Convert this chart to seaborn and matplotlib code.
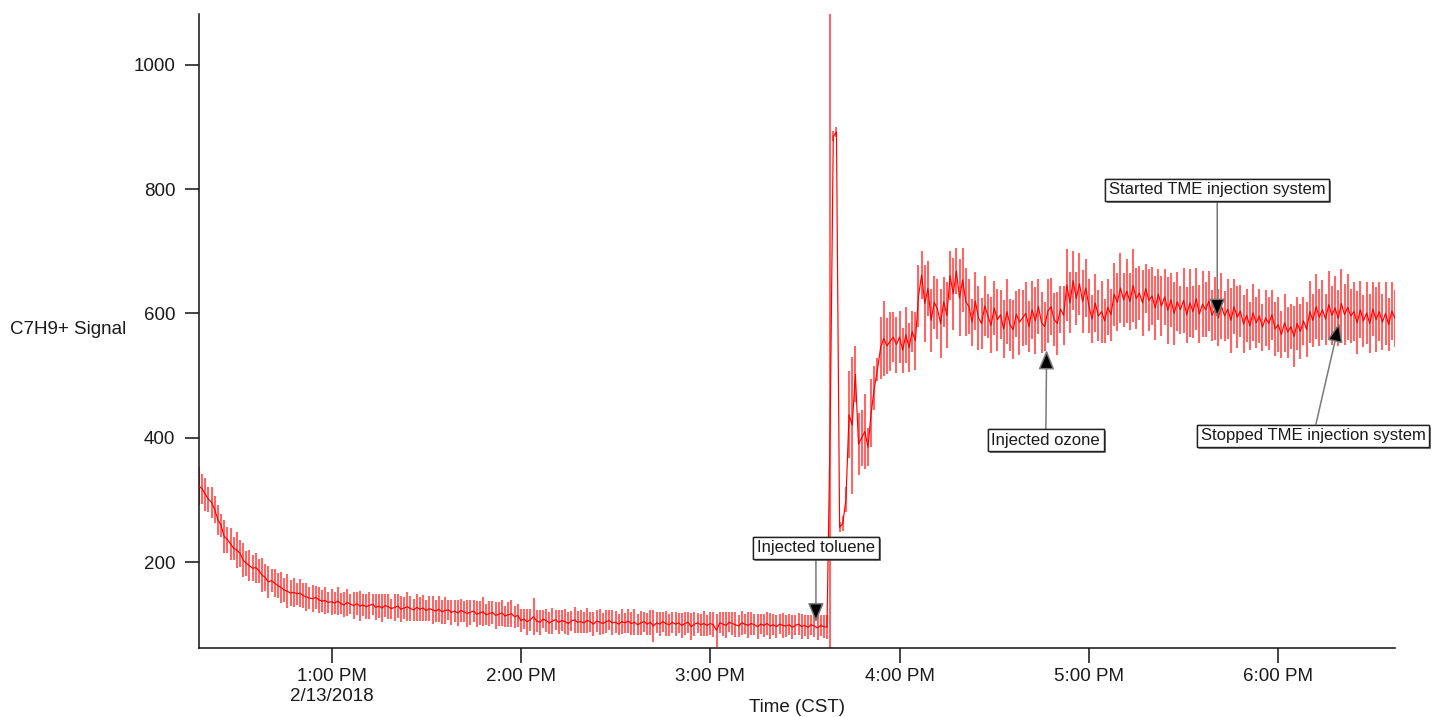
import numpy as np
import pandas as pd
import matplotlib
matplotlib.use("Agg")
import matplotlib.pyplot as plt
import matplotlib.patheffects as pe
import seaborn as sns

# ---- C7H9+ signal: one-minute mean and standard deviation, 2/13/2018 ----
start_time = "2018-02-13 12:18"

mean_12 = [322, 318, 309, 301, 296, 284, 268, 259, 241, 236,
           229, 222, 219, 214, 203, 198, 194, 190, 191, 186,
           179, 175, 168, 170, 166, 162, 159, 155, 153, 150,
           151, 149, 150, 146, 144, 142, 141, 143, 139, 137,
           138, 135]
err_12 = [31, 24, 27, 20, 25, 22, 24, 19, 26, 21,
          25, 18, 29, 22, 27, 20, 25, 21, 24, 19,
          27, 22, 26, 18, 22, 20, 25, 19, 27, 21,
          24, 18, 22, 20, 23, 17, 22, 19, 21, 18,
          22, 17]

mean_13 = [136, 134, 137, 133, 131, 135, 132, 130, 133, 129,
           131, 128, 130, 132, 127, 129, 126, 130, 128, 125,
           127, 129, 124, 126, 128, 125, 123, 127, 124, 126,
           122, 125, 123, 121, 124, 120, 122, 123, 119, 121,
           118, 122, 120, 117, 119, 121, 116, 118, 120, 115,
           117, 119, 114, 116, 118, 113, 115, 117, 112, 114]
err_13 = [21, 18, 23, 17, 20, 22, 16, 21, 19, 24,
          18, 20, 22, 17, 21, 19, 23, 18, 20, 16,
          22, 19, 21, 17, 23, 20, 18, 22, 19, 21,
          17, 20, 23, 18, 21, 19, 22, 16, 20, 18,
          21, 19, 17, 22, 20, 18, 21, 19, 23, 17,
          20, 18, 22, 19, 21, 17, 20, 22, 18, 19]

mean_14 = [106, 108, 104, 107, 112, 105, 103, 108, 106, 102,
           105, 107, 103, 106, 104, 101, 105, 107, 103, 104,
           102, 106, 104, 100, 105, 103, 101, 104, 106, 102,
           103, 100, 104, 102, 105, 101, 103, 99, 102, 104,
           100, 103, 97, 102, 100, 104, 101, 99, 103, 100,
           102, 98, 101, 103, 96, 100, 102, 99, 101, 98]
err_14 = [19, 16, 21, 18, 30, 17, 20, 15, 19, 18,
          21, 16, 19, 17, 20, 18, 16, 21, 18, 19,
          17, 20, 16, 19, 18, 21, 17, 19, 16, 20,
          18, 17, 20, 16, 19, 18, 21, 17, 19, 16,
          18, 20, 25, 17, 19, 16, 20, 18, 17, 19,
          16, 20, 18, 17, 22, 19, 16, 18, 20, 17]

mean_15 = [101, 99, 90, 102, 100, 98, 103, 101, 99, 97,
           102, 100, 98, 101, 99, 96, 100, 98, 101, 97,
           99, 96, 100, 98, 97, 99, 95, 98, 100, 96,
           98, 95, 99, 97, 94, 98, 96, 95,
           412, 885, 892, 256, 262, 300, 437, 420, 502, 390,
           400, 410, 385, 440, 480, 510, 545, 560, 548, 555,
           562, 550]
err_15 = [18, 20, 26, 17, 19, 21, 16, 18, 20, 17,
          19, 16, 21, 18, 17, 20, 16, 19, 18, 21,
          17, 19, 16, 20, 18, 17, 19, 16, 18, 20,
          17, 19, 16, 18, 20, 17, 18, 19,
          760, 8, 8, 8, 12, 20, 70, 110, 45, 50,
          45, 60, 30, 55, 35, 18, 50, 60, 45, 48,
          40, 45]

mean_16 = [562, 541, 566, 545, 571, 556, 628, 662, 616, 640,
           589, 618, 607, 584, 619, 597, 661, 632, 668, 625,
           654, 619, 611, 586, 620, 593, 584, 612, 596, 581,
           609, 590, 598, 575, 603, 582, 574, 599, 586, 593,
           600, 579, 606, 588, 611, 585, 579, 604, 611, 590,
           584, 607, 597, 646, 617, 653, 624, 648, 619, 641]
err_16 = [42, 36, 45, 39, 33, 47, 50, 38, 62, 44,
          51, 43, 48, 56, 40, 53, 40, 58, 37, 62,
          51, 55, 44, 38, 47, 52, 41, 49, 36, 45,
          43, 50, 39, 47, 52, 42, 48, 37, 53, 45,
          50, 41, 47, 54, 44, 49, 40, 52, 46, 43,
          51, 38, 47, 58, 49, 47, 42, 50, 51, 47]

mean_17 = [612, 591, 617, 596, 603, 588, 610, 598, 631, 618,
           641, 622, 636, 619, 645, 624, 633, 617, 640, 621,
           628, 609, 631, 612, 627, 605, 622, 600, 619, 606,
           621, 598, 617, 603, 624, 599, 615, 606, 620, 597,
           608, 593, 612, 596, 607, 589, 611, 594, 604, 583,
           597, 580, 601, 585, 596, 578, 593, 584, 598, 575]
err_17 = [44, 38, 47, 41, 50, 36, 45, 42, 51, 47,
          56, 43, 52, 46, 58, 49, 44, 53, 40, 50,
          47, 52, 41, 49, 45, 54, 43, 51, 48, 39,
          52, 45, 55, 42, 50, 47, 53, 44, 49, 41,
          51, 46, 53, 40, 48, 52, 44, 50, 42, 47,
          43, 39, 46, 41, 44, 38, 45, 42, 40, 44]

mean_18 = [582, 566, 585, 570, 579, 563, 584, 571, 588, 574,
           603, 589, 611, 594, 606, 591, 614, 597, 609, 592,
           616, 598, 610, 596, 603, 585, 606, 588, 601, 584,
           607, 590, 603, 586, 600, 582, 604, 592]
err_18 = [44, 38, 47, 41, 36, 49, 42, 45, 39, 44,
          50, 43, 52, 46, 48, 41, 54, 47, 51, 45,
          56, 49, 53, 44, 48, 51, 46, 42, 50, 47,
          44, 52, 48, 45, 50, 43, 47, 46]

# x axis ticks
tick_times = ["2018-02-13 13:00", "2018-02-13 14:00", "2018-02-13 15:00",
              "2018-02-13 16:00", "2018-02-13 17:00", "2018-02-13 18:00"]
tick_labels = ["1:00 PM\n2/13/2018", "2:00 PM", "3:00 PM",
               "4:00 PM", "5:00 PM", "6:00 PM"]
y_ticks = [200, 400, 600, 800, 1000]

# event annotations: label, event time, signal at arrow tip, label time, label height
events = [
    ("Injected toluene", "2018-02-13 15:33:30", 103, "2018-02-13 15:33:30", 223),
    ("Injected ozone", "2018-02-13 16:46:36", 541, "2018-02-13 16:46:20", 396),
    ("Started TME injection system", "2018-02-13 17:40:40", 593, "2018-02-13 17:40:40", 799),
    ("Stopped TME injection system", "2018-02-13 18:19:20", 585, "2018-02-13 18:11:05", 403),
]

# ---- assemble the series ----
signal_mean = np.array(mean_12 + mean_13 + mean_14 + mean_15 + mean_16 + mean_17 + mean_18, float)
signal_err = np.array(err_12 + err_13 + err_14 + err_15 + err_16 + err_17 + err_18, float)
times = pd.date_range(start_time, periods=len(signal_mean), freq="min")
df = pd.DataFrame({"time": times, "signal": signal_mean, "sd": signal_err})

sns.set_style("ticks")
plt.rcParams["font.family"] = ["Liberation Sans", "DejaVu Sans"]
plt.rcParams["text.color"] = "#1a1a1a"

fig = plt.figure(figsize=(14.32, 7.17), dpi=100)
ax = fig.add_axes([199 / 1432, 69 / 717, 1196 / 1432, 634 / 717])

red = "#ff0000"
ax.vlines(df["time"], df["signal"] - df["sd"], df["signal"] + df["sd"],
          colors=red, linewidth=1.5, alpha=0.6, zorder=2)
sns.lineplot(data=df, x="time", y="signal", color=red, linewidth=0.85,
             ax=ax, zorder=3, legend=False)

ax.set_xlim(pd.Timestamp("2018-02-13 12:18"), pd.Timestamp("2018-02-13 18:37"))
ax.set_ylim(61.6, 1082)
ax.set_xticks(pd.to_datetime(tick_times))
ax.set_xticklabels(tick_labels)
ax.set_yticks(y_ticks)
ax.set_xlabel("")
ax.set_ylabel("")

for side in ["top", "right"]:
    ax.spines[side].set_visible(False)
for side in ["left", "bottom"]:
    ax.spines[side].set_color("#111111")
    ax.spines[side].set_linewidth(1.1)

ax.tick_params(axis="x", length=10.5, width=1.1, color="#111111", pad=4,
               labelsize=13.5, labelcolor="#1a1a1a")
ax.tick_params(axis="y", length=10, width=1.1, color="#111111", pad=7,
               labelsize=13.5, labelcolor="#1a1a1a")

fig.text(797 / 1432, 1 - 707 / 717, "Time (CST)", ha="center", va="center", fontsize=13.5)
fig.text(10 / 1432, 1 - 330 / 717, "C7H9+ Signal", ha="left", va="center", fontsize=13.5)

for label, t_tip, v_tip, t_txt, v_txt in events:
    ann = ax.annotate(
        label,
        xy=(pd.Timestamp(t_tip), v_tip),
        xytext=(pd.Timestamp(t_txt), v_txt),
        ha="center", va="center", fontsize=12,
        bbox=dict(boxstyle="square,pad=0.22", fc="white", ec="#222222", lw=1.0),
        arrowprops=dict(arrowstyle="-|>,head_length=0.85,head_width=0.35",
                        mutation_scale=14, fc="black", ec="#7a7a7a", lw=1.1,
                        shrinkA=0, shrinkB=0),
        annotation_clip=False, zorder=5,
    )
    ann.get_bbox_patch().set_path_effects(
        [pe.withSimplePatchShadow(offset=(1.5, -1.5), shadow_rgbFace="0.35", alpha=0.7),
         pe.Normal()])

fig.savefig("out.png", dpi=100, facecolor="white")
